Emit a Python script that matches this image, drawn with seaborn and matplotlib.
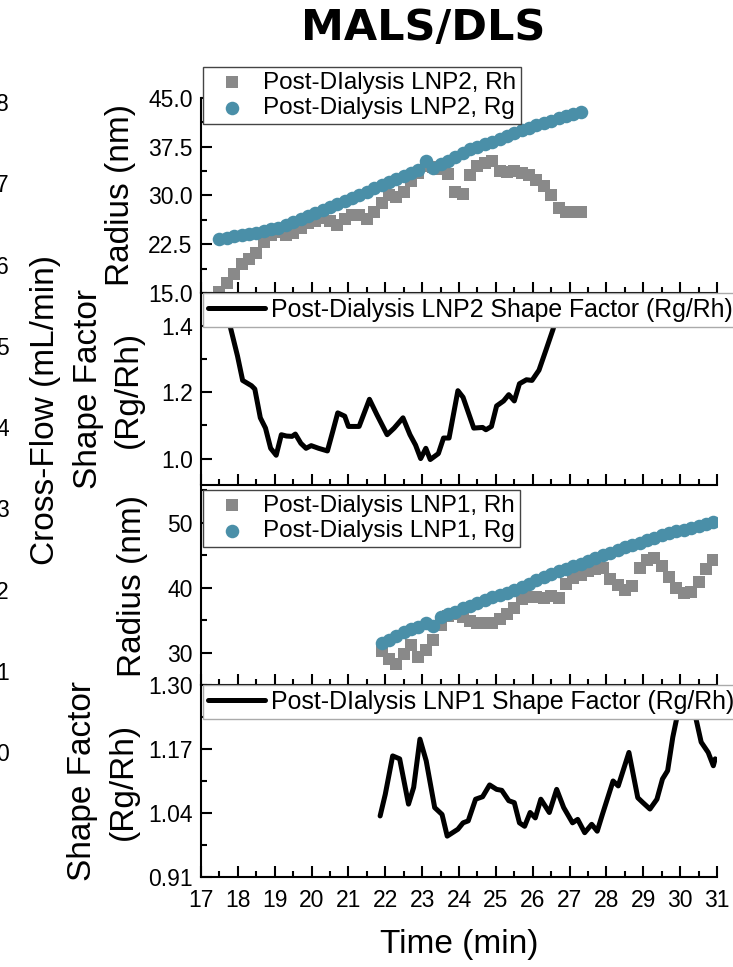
import numpy as np
import pandas as pd
import seaborn as sns
import matplotlib.pyplot as plt
from matplotlib.ticker import MultipleLocator

# ---- data ----
# LNP2 radii (top panel)
t_lnp2 = [17.5, 17.7, 17.9, 18.1, 18.3, 18.5, 18.7, 18.9, 19.1, 19.3,
          19.5, 19.7, 19.9, 20.1, 20.3, 20.5, 20.7, 20.9, 21.1, 21.3,
          21.5, 21.7, 21.9, 22.1, 22.3, 22.5, 22.7, 22.9, 23.1, 23.3,
          23.5, 23.7, 23.9, 24.1, 24.3, 24.5, 24.7, 24.9, 25.1, 25.3,
          25.5, 25.7, 25.9, 26.1, 26.3, 26.5, 26.7, 26.9, 27.1, 27.3]
rg_lnp2 = [23.3, 23.5, 23.7, 23.9, 24.1, 24.3, 24.5, 24.8, 25.0, 25.4,
           25.9, 26.4, 26.9, 27.3, 27.7, 28.2, 28.7, 29.2, 29.6, 30.1,
           30.6, 31.1, 31.6, 32.0, 32.5, 33.0, 33.5, 33.9, 35.3, 34.3,
           34.8, 35.3, 35.9, 36.6, 37.1, 37.5, 37.9, 38.3, 38.7, 39.1,
           39.6, 40.0, 40.4, 40.8, 41.2, 41.5, 41.9, 42.2, 42.5, 42.8]
rh_lnp2 = [15.2, 16.5, 17.9, 19.4, 20.2, 21.1, 22.9, 23.9, 24.4, 23.9,
           24.3, 25.0, 25.7, 26.1, 26.5, 26.0, 25.4, 26.4, 27.0, 27.0,
           26.4, 27.4, 28.8, 30.1, 29.8, 30.5, 32.2, 33.5, 34.5, 34.4,
           34.0, 33.3, 30.5, 30.3, 33.2, 34.5, 35.0, 35.3, 33.8, 33.6,
           33.8, 33.5, 33.2, 32.4, 31.5, 30.1, 28.0, 27.5, 27.5, 27.5]

# LNP2 shape factor
t_sf2 = [17.5, 17.65, 17.79, 17.99, 18.13, 18.37, 18.46, 18.61, 18.75, 18.89,
         19.04, 19.18, 19.32, 19.47, 19.56, 19.71, 19.85, 19.99, 20.19, 20.43,
         20.57, 20.71, 20.9, 21.0, 21.29, 21.57, 21.77, 22.05, 22.24, 22.48,
         22.67, 22.82, 22.96, 23.1, 23.22, 23.44, 23.58, 23.73, 23.97, 24.11,
         24.4, 24.64, 24.73, 24.88, 25.02, 25.21, 25.35, 25.5, 25.64, 25.83,
         25.98, 26.17, 26.36, 26.55, 26.75, 26.95, 27.15, 27.3]
sf_lnp2 = [1.53, 1.46, 1.40, 1.31, 1.236, 1.22, 1.21, 1.123, 1.092, 1.031,
           1.01, 1.072, 1.068, 1.067, 1.074, 1.046, 1.031, 1.039, 1.031, 1.023,
           1.08, 1.138, 1.128, 1.097, 1.097, 1.179, 1.133, 1.072, 1.092, 1.123,
           1.072, 1.041, 1.00, 1.031, 0.997, 1.015, 1.062, 1.062, 1.205, 1.185,
           1.092, 1.094, 1.087, 1.097, 1.159, 1.174, 1.193, 1.174, 1.226, 1.238,
           1.236, 1.267, 1.328, 1.39, 1.47, 1.54, 1.55, 1.56]

# LNP1 radii
t_lnp1 = [21.9, 22.1, 22.3, 22.5, 22.7, 22.9, 23.1, 23.3, 23.5, 23.7,
          23.9, 24.1, 24.3, 24.5, 24.7, 24.9, 25.1, 25.3, 25.5, 25.7,
          25.9, 26.1, 26.3, 26.5, 26.7, 26.9, 27.1, 27.3, 27.5, 27.7,
          27.9, 28.1, 28.3, 28.5, 28.7, 28.9, 29.1, 29.3, 29.5, 29.7,
          29.9, 30.1, 30.3, 30.5, 30.7, 30.9]
rg_lnp1 = [31.4, 32.0, 32.6, 33.1, 33.6, 34.0, 34.6, 34.1, 35.4, 35.9,
           36.3, 36.8, 37.2, 37.7, 38.1, 38.5, 38.9, 39.2, 39.6, 40.1,
           40.6, 41.1, 41.6, 42.1, 42.5, 42.9, 43.3, 43.7, 44.1, 44.5,
           45.0, 45.4, 45.8, 46.2, 46.6, 46.9, 47.3, 47.7, 48.1, 48.4,
           48.7, 48.9, 49.2, 49.5, 49.8, 50.1]
rh_lnp1 = [30.3, 29.0, 28.3, 29.8, 31.2, 29.3, 30.4, 31.9, 34.3, 35.6,
           36.0, 35.4, 34.8, 34.6, 34.6, 34.5, 35.1, 35.9, 36.8, 38.3,
           38.5, 38.5, 38.4, 38.7, 38.4, 40.6, 41.5, 42.0, 42.5, 42.8,
           43.0, 41.3, 40.4, 39.7, 40.2, 43.0, 44.3, 44.5, 43.3, 41.7,
           39.9, 39.1, 39.3, 40.8, 42.8, 44.2]

# LNP1 shape factor
t_sf1 = [21.86, 22.0, 22.2, 22.39, 22.63, 22.77, 22.94, 23.11, 23.34, 23.54,
         23.68, 23.97, 24.11, 24.25, 24.45, 24.64, 24.83, 25.02, 25.16, 25.35,
         25.5, 25.64, 25.78, 25.93, 26.07, 26.22, 26.45, 26.65, 26.84, 27.08,
         27.22, 27.41, 27.6, 27.75, 27.89, 28.18, 28.32, 28.61, 28.85, 28.99,
         29.18, 29.37, 29.52, 29.66, 29.8, 29.95, 30.1, 30.25, 30.38, 30.57,
         30.76, 30.9, 30.95]
sf_lnp1 = [1.034, 1.078, 1.156, 1.150, 1.058, 1.092, 1.190, 1.146, 1.051, 1.037,
           0.993, 1.007, 1.020, 1.024, 1.068, 1.073, 1.097, 1.088, 1.086, 1.065,
           1.061, 1.020, 1.013, 1.041, 1.030, 1.068, 1.041, 1.088, 1.051, 1.020,
           1.027, 1.000, 1.017, 1.003, 1.037, 1.105, 1.095, 1.163, 1.071, 1.061,
           1.048, 1.068, 1.109, 1.126, 1.194, 1.248, 1.31, 1.30, 1.248, 1.184,
           1.163, 1.136, 1.15]

cross_ticks = [0, 1, 2, 3, 4, 5, 6, 7, 8]
time_ticks = [17, 18, 19, 20, 21, 22, 23, 24, 25, 26, 27, 28, 29, 30, 31]

GRAY = '#898989'
BLUE = '#4a8fa8'

sns.set_theme(style='ticks')
plt.rcParams['font.family'] = ['Liberation Sans', 'DejaVu Sans']
for k in ['text.color', 'axes.labelcolor', 'xtick.color', 'ytick.color', 'axes.edgecolor']:
    plt.rcParams[k] = 'black'

fig = plt.figure(figsize=(7.33, 9.67), dpi=100)

L, W = 0.2742, 0.704
ax1 = fig.add_axes([L, 0.697, W, 0.2017])
ax2 = fig.add_axes([L, 0.4984, W, 0.1986])
ax3 = fig.add_axes([L, 0.2916, W, 0.2048])
ax4 = fig.add_axes([L, 0.0931, W, 0.1985])


def style_ax(ax, bottom=False):
    ax.set_xlim(17, 31)
    ax.set_xticks(time_ticks)
    ax.xaxis.set_minor_locator(MultipleLocator(0.5))
    ax.tick_params(which='both', direction='in', width=1.5, labelsize=16.5,
                   top=False, right=False)
    ax.tick_params(which='major', length=8)
    ax.tick_params(which='minor', length=4)
    ax.tick_params(axis='x', pad=9)
    ax.tick_params(axis='y', pad=6)
    for s in ['top', 'right']:
        ax.spines[s].set_visible(False)
    for s in ['left', 'bottom']:
        ax.spines[s].set_linewidth(1.5)
    if not bottom:
        ax.tick_params(axis='x', labelbottom=False)
    ax.set_xlabel('')


def add_legend(ax, top, size, edge, **kw):
    leg = ax.legend(loc='upper left', bbox_to_anchor=(0.003, top), fontsize=size,
                    frameon=True, fancybox=False, edgecolor=edge, framealpha=1,
                    borderaxespad=0, borderpad=0.2, **kw)
    leg.get_frame().set_linewidth(1.0)
    return leg


# panel 1: LNP2 radius
df2 = pd.DataFrame({'t': t_lnp2, 'rg': rg_lnp2, 'rh': rh_lnp2})
sns.scatterplot(data=df2, x='t', y='rh', marker='s', s=70, color=GRAY,
                linewidth=0, ax=ax1, label='Post-DIalysis LNP2, Rh')
sns.scatterplot(data=df2, x='t', y='rg', marker='o', s=95, color=BLUE,
                linewidth=0, ax=ax1, label='Post-Dialysis LNP2, Rg')
style_ax(ax1)
ax1.set_ylim(15, 45)
ax1.set_yticks([15, 22.5, 30, 37.5, 45])
ax1.set_yticklabels(['15.0', '22.5', '30.0', '37.5', '45.0'])
ax1.yaxis.set_minor_locator(MultipleLocator(3.75))
ax1.set_ylabel('Radius (nm)', fontsize=24)
ax1.yaxis.set_label_coords(-0.125, 0.5)
add_legend(ax1, 1.16, 17.5, '#444444', labelspacing=0.15,
           handletextpad=0.3, handlelength=2.0)

# panel 2: LNP2 shape factor
sns.lineplot(x=t_sf2, y=sf_lnp2, ax=ax2, color='black', linewidth=3.6,
             sort=False, estimator=None,
             label='Post-Dialysis LNP2 Shape Factor (Rg/Rh)')
style_ax(ax2)
ax2.set_ylim(0.92, 1.50)
ax2.set_yticks([1.0, 1.2, 1.4])
ax2.set_yticklabels(['1.0', '1.2', '1.4'])
ax2.yaxis.set_minor_locator(MultipleLocator(0.1))
ax2.set_ylabel('Shape Factor\n(Rg/Rh)', fontsize=24, linespacing=1.4)
ax2.yaxis.set_label_coords(-0.11, 0.5)
add_legend(ax2, 1.0, 17.9, '#aaaaaa', handletextpad=0.25, handlelength=2.3)

# panel 3: LNP1 radius
df1 = pd.DataFrame({'t': t_lnp1, 'rg': rg_lnp1, 'rh': rh_lnp1})
sns.scatterplot(data=df1, x='t', y='rh', marker='s', s=70, color=GRAY,
                linewidth=0, ax=ax3, label='Post-Dialysis LNP1, Rh')
sns.scatterplot(data=df1, x='t', y='rg', marker='o', s=95, color=BLUE,
                linewidth=0, ax=ax3, label='Post-Dialysis LNP1, Rg')
style_ax(ax3)
ax3.set_ylim(25, 55.5)
ax3.set_yticks([30, 40, 50])
ax3.yaxis.set_minor_locator(MultipleLocator(5))
ax3.set_ylabel('Radius (nm)', fontsize=24)
ax3.yaxis.set_label_coords(-0.102, 0.5)
add_legend(ax3, 0.985, 17.5, '#444444', labelspacing=0.15,
           handletextpad=0.3, handlelength=2.0)

# panel 4: LNP1 shape factor
sns.lineplot(x=t_sf1, y=sf_lnp1, ax=ax4, color='black', linewidth=3.6,
             sort=False, estimator=None,
             label='Post-DIalysis LNP1 Shape Factor (Rg/Rh)')
style_ax(ax4, bottom=True)
ax4.set_ylim(0.91, 1.30)
ax4.set_yticks([0.91, 1.04, 1.17, 1.30])
ax4.set_yticklabels(['0.91', '1.04', '1.17', '1.30'])
ax4.yaxis.set_minor_locator(MultipleLocator(0.065))
ax4.set_ylabel('Shape Factor\n(Rg/Rh)', fontsize=24, linespacing=1.4)
ax4.yaxis.set_label_coords(-0.12, 0.5)
ax4.set_xlabel('Time (min)', fontsize=24, labelpad=12)
add_legend(ax4, 1.0, 17.9, '#aaaaaa', handletextpad=0.25, handlelength=2.3)

# cropped cross-flow axis from the neighbouring plot
axc = fig.add_axes([-0.3, 0.214, 0.289, 0.724])
axc.set_ylim(-0.1, 8.52)
axc.patch.set_visible(False)
for s in axc.spines.values():
    s.set_visible(False)
axc.set_xticks([])
axc.yaxis.tick_right()
axc.yaxis.set_label_position('right')
axc.set_yticks(cross_ticks)
axc.tick_params(axis='y', length=0, pad=3, labelsize=16.5)
axc.set_ylabel('Cross-Flow (mL/min)', fontsize=24, labelpad=15)

fig.text(0.578, 0.971, 'MALS/DLS', fontsize=31, fontweight='bold',
         family=['DejaVu Sans'], ha='center', va='center')

fig.savefig('out.png', dpi=100)
